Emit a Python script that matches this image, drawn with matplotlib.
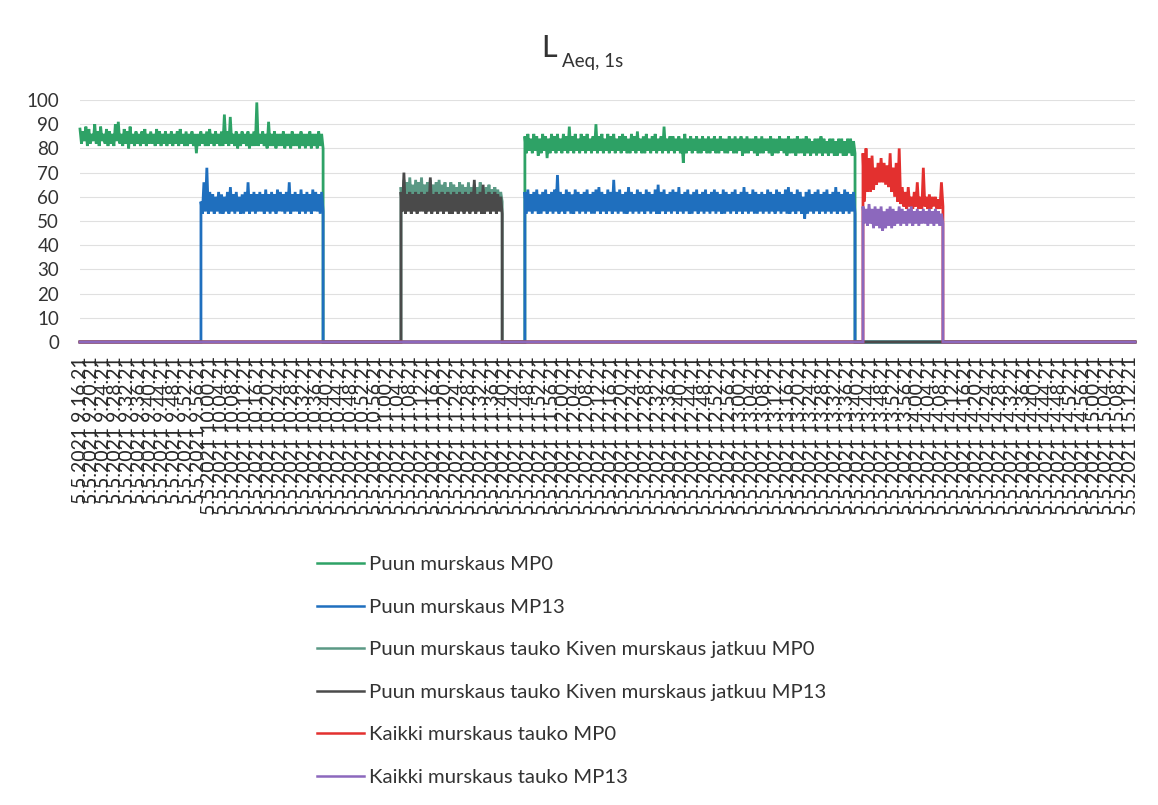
import numpy as np
import matplotlib
matplotlib.use("Agg")
import matplotlib.pyplot as plt
from matplotlib.lines import Line2D
from datetime import datetime, timedelta

plt.rcParams['font.family'] = ['Lato', 'DejaVu Sans']

# ---------------- data ----------------
# time axis: minutes after 5.5.2021 9.16.21
axis_start = "5.5.2021 9.16.21"
axis_end_min = 357.6
tick_step_min = 4
n_ticks = 90

series_names = [
    "Puun murskaus MP0",
    "Puun murskaus MP13",
    "Puun murskaus tauko Kiven murskaus jatkuu MP0",
    "Puun murskaus tauko Kiven murskaus jatkuu MP13",
    "Kaikki murskaus tauko MP0",
    "Kaikki murskaus tauko MP13",
]

# Per-minute maxima (hi) and minima (lo) of the 1 s LAeq readings.
# Puun murskaus MP0
green_seg1_span = (0.0, 82.4)
green_seg1_hi = [88, 87, 89, 88, 86, 90, 87, 89, 86, 88,
                 87, 86, 90, 91, 86, 88, 87, 89, 86, 87,
                 86, 87, 88, 86, 87, 86, 88, 87, 86, 87,
                 86, 87, 86, 87, 88, 86, 87, 86, 87, 86,
                 86, 87, 86, 87, 88, 86, 87, 86, 87, 94,
                 87, 93, 86, 87, 86, 87, 86, 87, 86, 87,
                 99, 86, 87, 86, 91, 86, 87, 86, 86, 87,
                 86, 86, 87, 86, 86, 87, 86, 86, 87, 86,
                 86, 87, 86]
green_seg1_lo = [82, 83, 81, 82, 83, 82, 81, 83, 82, 81,
                 82, 81, 83, 82, 81, 82, 80, 82, 81, 82,
                 81, 82, 81, 82, 82, 81, 82, 81, 82, 81,
                 82, 81, 82, 81, 82, 81, 81, 82, 81, 78,
                 81, 82, 81, 81, 82, 81, 82, 81, 81, 82,
                 81, 82, 81, 80, 81, 82, 81, 80, 81, 81,
                 81, 82, 81, 80, 81, 81, 80, 81, 81, 80,
                 81, 80, 81, 81, 80, 81, 80, 81, 80, 81,
                 80, 81, 80]
green_seg2_span = (150.8, 262.7)
green_seg2_hi = [85, 86, 84, 86, 85, 84, 86, 85, 84, 86,
                 85, 86, 84, 86, 85, 89, 85, 86, 84, 86,
                 85, 86, 84, 85, 90, 85, 86, 84, 86, 85,
                 86, 84, 85, 86, 85, 84, 86, 85, 87, 84,
                 85, 86, 84, 85, 86, 84, 85, 89, 84, 85,
                 85, 84, 85, 84, 86, 84, 85, 84, 85, 84,
                 85, 84, 85, 84, 85, 84, 85, 84, 84, 85,
                 84, 85, 84, 85, 84, 85, 84, 84, 85, 84,
                 85, 84, 84, 85, 84, 84, 85, 84, 84, 85,
                 84, 84, 85, 84, 84, 85, 84, 83, 84, 84,
                 85, 84, 83, 84, 84, 83, 84, 84, 83, 84, 84, 83]
green_seg2_lo = [78, 79, 78, 79, 77, 78, 79, 76, 78, 79,
                 78, 79, 78, 79, 78, 79, 78, 79, 78, 79,
                 78, 79, 78, 79, 78, 79, 78, 79, 78, 79,
                 78, 79, 78, 79, 78, 78, 79, 78, 79, 78,
                 78, 79, 78, 79, 78, 79, 78, 79, 78, 79,
                 78, 79, 78, 74, 78, 79, 78, 79, 78, 78,
                 79, 78, 78, 79, 78, 78, 79, 78, 78, 79,
                 78, 78, 79, 77, 78, 78, 79, 78, 77, 78,
                 78, 79, 78, 77, 78, 78, 79, 78, 77, 78,
                 78, 77, 78, 78, 77, 78, 77, 78, 77, 78,
                 77, 78, 77, 78, 77, 77, 78, 77, 77, 78, 77, 78]

# Puun murskaus MP13
blue_seg1_span = (41.0, 82.4)
blue_seg1_hi = [58, 66, 72, 62, 61, 60, 62, 61, 60, 62,
                64, 61, 62, 60, 61, 62, 66, 61, 62, 61,
                62, 61, 63, 61, 62, 61, 63, 62, 61, 62,
                66, 61, 62, 61, 63, 61, 62, 61, 63, 62,
                61, 62]
blue_seg1_lo = [53, 54, 53, 54, 53, 54, 53, 53, 54, 53,
                54, 53, 54, 53, 53, 54, 53, 54, 53, 54,
                54, 53, 54, 53, 54, 53, 54, 54, 53, 54,
                53, 54, 54, 53, 54, 53, 54, 53, 54, 54,
                53, 54]
blue_seg2_span = (150.8, 262.7)
blue_seg2_hi = [62, 63, 61, 62, 63, 61, 62, 63, 61, 62,
                63, 69, 62, 61, 63, 62, 61, 63, 62, 61,
                62, 63, 61, 62, 63, 64, 62, 61, 63, 62,
                67, 62, 63, 61, 62, 64, 62, 61, 63, 62,
                61, 63, 62, 61, 63, 65, 62, 63, 61, 62,
                63, 62, 64, 61, 62, 63, 61, 62, 63, 61,
                62, 63, 61, 62, 63, 62, 61, 63, 62, 61,
                62, 63, 61, 62, 64, 62, 61, 63, 62, 61,
                62, 61, 63, 62, 61, 63, 62, 61, 63, 64,
                62, 61, 63, 62, 60, 62, 63, 61, 62, 63,
                61, 62, 63, 61, 62, 64, 62, 61, 63, 62, 61, 62]
blue_seg2_lo = [53, 54, 53, 54, 53, 53, 54, 53, 54, 53,
                54, 53, 54, 53, 54, 53, 53, 54, 53, 54,
                53, 54, 53, 53, 54, 53, 54, 53, 54, 53,
                54, 53, 54, 53, 53, 54, 53, 54, 53, 54,
                53, 54, 53, 54, 53, 53, 54, 53, 54, 53,
                54, 53, 54, 53, 54, 53, 53, 54, 53, 54,
                53, 54, 53, 54, 53, 54, 53, 53, 54, 53,
                54, 53, 54, 53, 54, 53, 54, 53, 53, 54,
                53, 54, 53, 54, 53, 54, 53, 54, 53, 53,
                54, 53, 54, 53, 51, 53, 54, 53, 54, 53,
                54, 53, 54, 53, 54, 53, 54, 53, 54, 53, 54, 53]

# Puun murskaus tauko, Kiven murskaus jatkuu
stone_span = (108.8, 143.1)
stone_mp0_hi = [64, 67, 66, 68, 65, 67, 66, 68, 65, 66,
                67, 65, 66, 67, 65, 66, 64, 66, 65, 64,
                66, 65, 64, 66, 64, 65, 64, 66, 63, 64,
                65, 63, 64, 63, 62]
stone_mp0_lo = [57, 58, 57, 58, 58, 57, 58, 57, 58, 57,
                58, 57, 58, 57, 57, 58, 57, 58, 57, 58,
                57, 58, 57, 57, 58, 57, 58, 57, 57, 58,
                57, 58, 57, 57, 58]
stone_mp13_hi = [62, 70, 61, 62, 61, 62, 61, 62, 61, 62,
                 68, 61, 62, 61, 62, 61, 62, 61, 62, 61,
                 62, 61, 62, 61, 62, 67, 61, 62, 65, 61,
                 62, 61, 62, 61, 60]
stone_mp13_lo = [54, 53, 54, 53, 54, 53, 54, 54, 53, 54,
                 53, 54, 53, 54, 53, 54, 53, 53, 54, 53,
                 54, 53, 54, 53, 54, 53, 54, 53, 53, 54,
                 53, 54, 53, 54, 53]

# Kaikki murskaus tauko
pause_span = (265.4, 292.5)
pause_mp0_hi = [78, 80, 76, 77, 72, 74, 76, 74, 73, 78,
                72, 74, 80, 64, 62, 64, 60, 62, 66, 60,
                72, 60, 61, 60, 60, 59, 66]
pause_mp0_lo = [58, 62, 62, 63, 65, 66, 66, 65, 64, 62,
                60, 58, 57, 56, 55, 56, 55, 56, 55, 55,
                56, 55, 55, 56, 55, 55, 56]
pause_mp13_hi = [56, 55, 57, 55, 56, 55, 56, 54, 55, 56,
                 55, 54, 56, 55, 54, 55, 56, 54, 55, 54,
                 55, 54, 55, 54, 55, 54, 53]
pause_mp13_lo = [49, 48, 49, 47, 48, 47, 46, 47, 48, 47,
                 48, 49, 48, 49, 48, 49, 48, 49, 48, 49,
                 49, 48, 49, 48, 49, 48, 49]

y_ticks = [0, 10, 20, 30, 40, 50, 60, 70, 80, 90, 100]

t0 = datetime.strptime(axis_start, "%d.%m.%Y %H.%M.%S")
tick_minutes = [i * tick_step_min for i in range(n_ticks)]
tick_labels = []
for m in tick_minutes:
    t = t0 + timedelta(minutes=m)
    tick_labels.append(f"{t.day}.{t.month}.{t.year} {t.hour}.{t.minute:02d}.{t.second:02d}")


def build(segments):
    """segments: list of (span, hi, lo); readings alternate max/min within each minute."""
    xs, ys = [], []
    for (a, b), hi, lo in segments:
        vals = []
        for h, l in zip(hi, lo):
            vals += [h, l]
        tt = np.linspace(a, b, len(vals))
        if a > 0:
            if not xs:
                xs, ys = [0.0], [0.0]
            xs += [a]
            ys += [0.0]
        xs += list(tt) + [b]
        ys += list(vals) + [0.0]
    xs.append(axis_end_min)
    ys.append(0.0)
    return np.array(xs), np.array(ys)


series = [
    build([(green_seg1_span, green_seg1_hi, green_seg1_lo),
           (green_seg2_span, green_seg2_hi, green_seg2_lo)]),
    build([(blue_seg1_span, blue_seg1_hi, blue_seg1_lo),
           (blue_seg2_span, blue_seg2_hi, blue_seg2_lo)]),
    build([(stone_span, stone_mp0_hi, stone_mp0_lo)]),
    build([(stone_span, stone_mp13_hi, stone_mp13_lo)]),
    build([(pause_span, pause_mp0_hi, pause_mp0_lo)]),
    build([(pause_span, pause_mp13_hi, pause_mp13_lo)]),
]
colors = ["#2ea266", "#1f6fbe", "#5b9985", "#4a4a4a", "#e3302f", "#8c68bd"]

# ---------------- figure ----------------
W, H = 1158, 805
fig = plt.figure(figsize=(W / 100, H / 100), dpi=100)
ax = fig.add_axes([80 / W, 1 - 342 / H, (1135 - 80) / W, (342 - 100) / H])

for (xs, ys), c in zip(series, colors):
    ax.plot(xs, ys, color=c, lw=2.0, clip_on=False, solid_joinstyle='miter')

ax.set_xlim(0, axis_end_min)
ax.set_ylim(0, 100)
ax.set_yticks(y_ticks)
ax.set_yticklabels([str(v) for v in y_ticks], fontsize=13.5, color="#333333")
ax.set_xticks(tick_minutes)
ax.set_xticklabels(tick_labels, rotation=90, fontsize=14, color="#2a2a2a")
ax.tick_params(axis='y', length=0, pad=15)
ax.tick_params(axis='x', length=0, pad=10)
ax.grid(axis='y', color="#e0e0e0", lw=0.8)
ax.set_axisbelow(True)
for s in ax.spines.values():
    s.set_visible(False)

# title
fig.text(541 / W, 1 - 57 / H, "L", fontsize=22, color="#333333", ha='left', va='baseline')
fig.text(562 / W, 1 - 67 / H, "Aeq, 1s", fontsize=13.5, color="#333333",
         ha='left', va='baseline')

handles = [Line2D([], [], color=c, lw=1.8) for c in colors]
fig.legend(handles, series_names, loc='upper left', bbox_to_anchor=(317 / W, 1 - 556 / H),
           frameon=False, fontsize=14.6, handlelength=2.3, handletextpad=0.25,
           labelspacing=1.25, borderpad=0, borderaxespad=0, labelcolor="#333333")

fig.savefig("out.png", dpi=100)
